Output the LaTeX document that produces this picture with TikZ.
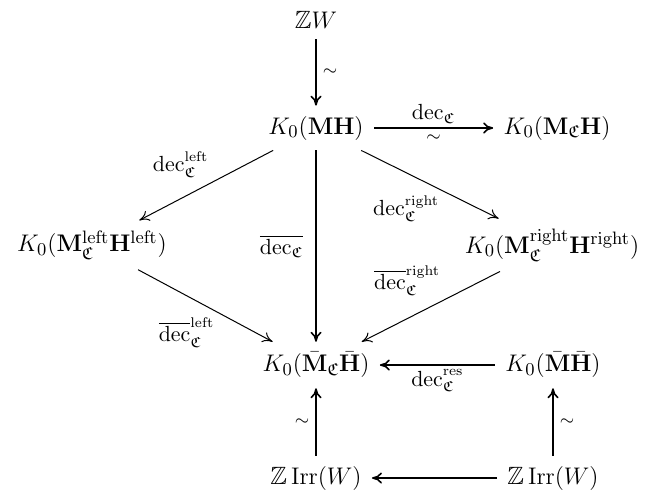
\documentclass[tikz,border=0pt]{standalone}
\usepackage{amsmath,amssymb}
\usetikzlibrary{arrows.meta}
\begin{document}
\begin{tikzpicture}[x=0.5pt,y=-0.5pt,
  obj/.style={inner sep=5pt, font=\fontsize{12.5}{15}\selectfont},
  lab/.style={font=\fontsize{10.5}{12}\selectfont, inner sep=2pt},
  tl/.style={font=\fontsize{9}{11}\selectfont, inner sep=3pt},
  straight/.style={-{To[length=5pt,width=5.5pt]}, line width=0.8pt},
  diag/.style={-{To[length=5pt,width=5.5pt]}, line width=0.5pt}]
\useasboundingbox (0,0) rectangle (647,494);
\node[obj] (zw)    at (316,20)  {$\mathbb{Z}W$};
\node[obj] (mh)    at (316,128) {$K_0(\mathbf{MH})$};
\node[obj] (mch)   at (557,128) {$K_0(\mathbf{M}_{\mathfrak{C}}\mathbf{H})$};
\node[obj] (left)  at (92,245)  {$K_0(\mathbf{M}_{\mathfrak{C}}^{\mathrm{left}}\mathbf{H}^{\mathrm{left}})$};
\node[obj] (right) at (552,245) {$K_0(\mathbf{M}_{\mathfrak{C}}^{\mathrm{right}}\mathbf{H}^{\mathrm{right}})$};
\node[obj] (mbar)  at (316,365) {$K_0(\bar{\mathbf{M}}_{\mathfrak{C}}\bar{\mathbf{H}})$};
\node[obj] (mhbar) at (553,365) {$K_0(\bar{\mathbf{M}}\bar{\mathbf{H}})$};
\node[obj] (zl)    at (316,478) {$\mathbb{Z}\,\mathrm{Irr}(W)$};
\node[obj] (zr)    at (553,478) {$\mathbb{Z}\,\mathrm{Irr}(W)$};

\draw[straight] (zw) -- node[tl,right]{$\sim$} (mh);
\draw[straight] (mh) -- node[lab,above]{$\mathrm{dec}_{\mathfrak{C}}$} node[tl,below]{$\sim$} (mch);
\draw[diag] (mh) -- node[lab,pos=0.45,anchor=south east]{$\mathrm{dec}_{\mathfrak{C}}^{\mathrm{left}}$} (left);
\draw[diag] (mh) -- node[lab,pos=0.6,anchor=north east]{$\mathrm{dec}_{\mathfrak{C}}^{\mathrm{right}}$} (right);
\draw[straight] (mh) -- node[lab,left,inner sep=6pt]{$\overline{\mathrm{dec}_{\mathfrak{C}}}$} (mbar);
\draw[diag] (left) -- node[lab,pos=0.6,anchor=north east]{$\overline{\mathrm{dec}}_{\mathfrak{C}}^{\mathrm{left}}$} (mbar);
\draw[diag] (right) -- node[lab,pos=0.4,anchor=south east]{$\overline{\mathrm{dec}}_{\mathfrak{C}}^{\mathrm{right}}$} (mbar);
\draw[straight] (mhbar) -- node[lab,below]{$\mathrm{dec}_{\mathfrak{C}}^{\mathrm{res}}$} (mbar);
\draw[straight] (zr) -- (zl);
\draw[straight] (zl) -- node[tl,left]{$\sim$} (mbar);
\draw[straight] (zr) -- node[tl,right]{$\sim$} (mhbar);
\end{tikzpicture}
\end{document}
